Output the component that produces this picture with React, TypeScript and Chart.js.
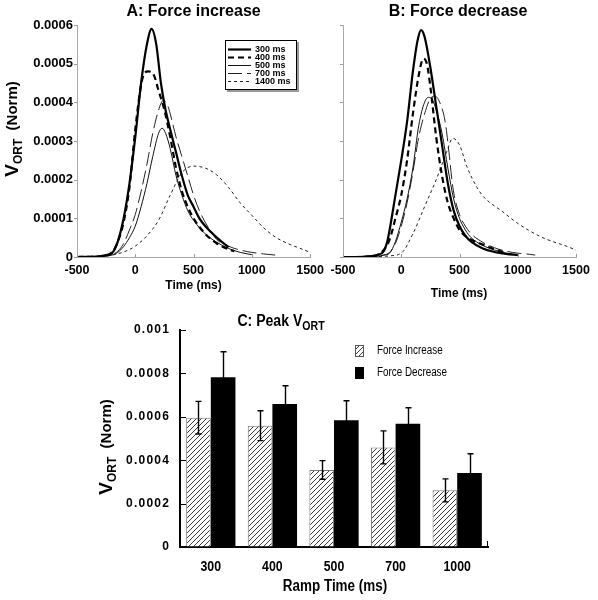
import React, { useEffect, useRef } from 'react';
import { Chart, registerables } from 'chart.js';

Chart.register(...registerables);

const SANS = "'Liberation Sans', Arial, Helvetica, sans-serif";

// ---------------- Panels A & B : normalised velocity profiles ----------------
const rampLabels = ['300 ms', '400 ms', '500 ms', '700 ms', '1400 ms'];
const timeMin = -500;
const timeMax = 1500;
const timeStep = 500;
const velMax = 0.0006;
const velStep = 0.0001;

// A: Force increase
const tA300 = [-500, -400, -300, -250, -200, -150, -100, -50, 0, 50, 100, 140, 180, 220, 260, 300, 350, 400, 450, 500, 550, 600, 700, 800];
const vA300 = [0, 0.0000005, 0.000002, 0.000005, 0.00001, 0.00004, 0.0001, 0.00019, 0.00031, 0.00045, 0.00055, 0.00059, 0.00055, 0.00045, 0.00038, 0.00033, 0.00027, 0.00021, 0.00016, 0.00013, 0.0001, 0.00008, 0.00005, 0.000025];
const tA400 = [-500, -400, -300, -200, -150, -100, -50, 0, 60, 110, 160, 200, 250, 300, 350, 400, 450, 500, 600, 700, 800, 850];
const vA400 = [0, 0.0000005, 0.000002, 0.000012, 0.00004, 0.00009, 0.00018, 0.00033, 0.00046, 0.00048, 0.00047, 0.00043, 0.00038, 0.00031, 0.00023, 0.00017, 0.00013, 0.0001, 0.00006, 0.000035, 0.00002, 0.000015];
const tA500 = [-500, -400, -300, -200, -150, -100, -50, 0, 50, 100, 150, 200, 230, 260, 300, 350, 400, 450, 500, 600, 700, 800, 900, 1000];
const vA500 = [0, 0, 0.000001, 0.000005, 0.000012, 0.000027, 0.00005, 0.00008, 0.00013, 0.00019, 0.00026, 0.00032, 0.000333, 0.00032, 0.00028, 0.00021, 0.00016, 0.00012, 0.000095, 0.00006, 0.000038, 0.000022, 0.000012, 0.000006];
const tA700 = [-500, -400, -300, -200, -150, -100, -50, 0, 50, 100, 150, 200, 240, 280, 300, 350, 400, 450, 500, 550, 600, 700, 800, 900, 1000, 1100, 1200];
const vA700 = [0, 0, 0.000002, 0.000006, 0.000015, 0.000035, 0.00007, 0.00011, 0.00017, 0.00024, 0.00032, 0.00038, 0.000405, 0.00039, 0.00037, 0.00031, 0.00026, 0.00021, 0.00016, 0.00012, 0.00009, 0.000045, 0.000028, 0.000018, 0.000012, 0.000008, 0.000005];
const tA1400 = [-500, -400, -300, -200, -100, 0, 100, 200, 300, 400, 500, 600, 700, 800, 900, 1000, 1100, 1200, 1300, 1400, 1500];
const vA1400 = [0, 0.000001, 0.000002, 0.000005, 0.000013, 0.000028, 0.000055, 0.000095, 0.00016, 0.000218, 0.000235, 0.00023, 0.000212, 0.00018, 0.00014, 0.000108, 0.000076, 0.000052, 0.000036, 0.000024, 0.000012];

// B: Force decrease
const tB300 = [-500, -400, -300, -200, -150, -120, -100, -50, 0, 50, 100, 140, 170, 200, 250, 300, 350, 400, 450, 500, 550, 600, 700, 800, 900, 1000];
const vB300 = [0, 0, 0.000001, 0.000006, 0.000015, 0.00004, 0.00007, 0.00016, 0.00025, 0.00035, 0.00048, 0.00056, 0.000587, 0.00057, 0.00049, 0.00039, 0.00029, 0.00019, 0.00012, 0.00008, 0.000055, 0.00004, 0.000022, 0.000013, 0.000008, 0.000005];
const tB400 = [-500, -400, -300, -200, -150, -100, -50, 0, 50, 100, 150, 190, 220, 250, 300, 350, 400, 450, 500, 600, 700, 800, 900];
const vB400 = [0, 0, 0.000001, 0.000006, 0.000018, 0.000045, 0.0001, 0.00016, 0.00025, 0.00037, 0.00047, 0.000513, 0.0005, 0.00044, 0.00031, 0.00021, 0.00014, 0.0001, 0.00007, 0.000045, 0.000032, 0.00002, 0.00001];
const tB500 = [-500, -400, -300, -200, -150, -100, -50, 0, 50, 100, 150, 200, 234, 270, 300, 350, 400, 450, 500, 550, 600, 700, 800, 900, 1000];
const vB500 = [0, 0, 0, 0.000002, 0.000005, 0.00001, 0.00004, 0.00009, 0.00015, 0.00023, 0.00034, 0.0004, 0.000413, 0.000405, 0.00038, 0.00032, 0.00023, 0.00015, 0.0001, 0.00007, 0.00005, 0.00003, 0.000018, 0.00001, 0.000005];
const tB700 = [-500, -400, -300, -200, -150, -100, -50, 0, 50, 100, 150, 200, 250, 290, 330, 377, 410, 443, 500, 550, 600, 700, 800, 900, 1000, 1100, 1150];
const vB700 = [0, 0, 0, 0.000002, 0.000005, 0.000012, 0.000035, 0.00008, 0.00014, 0.00022, 0.00031, 0.00037, 0.00041, 0.000416, 0.0004, 0.00035, 0.00027, 0.00018, 0.00011, 0.00008, 0.00006, 0.000038, 0.000024, 0.000015, 0.00001, 0.000007, 0.000005];
const tB1400 = [-500, -300, -200, -100, 0, 100, 200, 300, 350, 400, 440, 500, 563, 650, 706, 800, 849, 900, 1000, 1100, 1200, 1300, 1400, 1500];
const vB1400 = [0, 0, 0.000001, 0.000003, 0.00001, 0.00006, 0.00013, 0.0002, 0.00024, 0.00028, 0.000307, 0.00029, 0.000234, 0.00018, 0.000156, 0.000132, 0.000122, 0.00011, 0.000087, 0.000068, 0.000052, 0.00004, 0.00003, 0.000018];

const seriesA: [number[], number[]][] = [[tA300, vA300], [tA400, vA400], [tA500, vA500], [tA700, vA700], [tA1400, vA1400]];
const seriesB: [number[], number[]][] = [[tB300, vB300], [tB400, vB400], [tB500, vB500], [tB700, vB700], [tB1400, vB1400]];

// ---------------- Panel C : peak velocity ----------------
const rampTimes = ['300', '400', '500', '700', '1000'];
const peakIncrease = [0.000596, 0.000559, 0.000355, 0.000459, 0.000261];
const errIncrease = [0.000075, 0.000069, 0.000043, 0.000076, 0.000053];
const peakDecrease = [0.000782, 0.000659, 0.000584, 0.000568, 0.000341];
const errDecrease = [0.000118, 0.000084, 0.00009, 0.000074, 0.000089];
const peakMax = 0.001;
const peakStep = 0.0002;

// ---------------- styles ----------------
const lineWidths = [2.2, 2.2, 1, 1, 1];
const lineDashes = [[], [6, 4], [], [14, 5], [3, 3]];
const lineColors = ['#000', '#000', '#111', '#222', '#222'];

type Part = [string, string, number];
function drawRich(ctx: CanvasRenderingContext2D, cx: number, cy: number, angle: number, parts: Part[], sx = 1, align = 'center', spacing = '0px') {
  ctx.save();
  ctx.translate(cx, cy);
  if (angle) ctx.rotate(angle);
  if (sx !== 1) ctx.scale(sx, 1);
  (ctx as any).letterSpacing = spacing;
  ctx.fillStyle = '#000';
  ctx.textAlign = 'left';
  ctx.textBaseline = 'middle';
  let total = 0;
  const widths = parts.map(([t, f]) => {
    ctx.font = f;
    const w = ctx.measureText(t).width;
    total += w;
    return w;
  });
  let x = align === 'center' ? -total / 2 : align === 'right' ? -total : 0;
  parts.forEach(([t, f, dy], i) => {
    ctx.font = f;
    ctx.fillText(t, x, dy);
    x += widths[i];
  });
  (ctx as any).letterSpacing = '0px';
  ctx.restore();
}

function makeHatch(): CanvasPattern | string {
  const s = 5;
  const c = document.createElement('canvas');
  c.width = s;
  c.height = s;
  const g = c.getContext('2d');
  if (!g) return '#fff';
  g.fillStyle = '#fff';
  g.fillRect(0, 0, s, s);
  g.strokeStyle = '#222';
  g.lineWidth = 0.9;
  g.beginPath();
  g.moveTo(0, s);
  g.lineTo(s, 0);
  g.moveTo(-1, 1);
  g.lineTo(1, -1);
  g.moveTo(s - 1, s + 1);
  g.lineTo(s + 1, s - 1);
  g.stroke();
  return g.createPattern(c, 'repeat') || '#fff';
}

type Box = { W: number; H: number; L: number; T: number; R: number; B: number };

function lineConfig(series: [number[], number[]][], box: Box, showY: boolean, drawText: (chart: any) => void): any {
  const { W, H, L, T, R, B } = box;
  return {
    type: 'line',
    data: {
      datasets: series.map(([t, v], i) => ({
        label: rampLabels[i],
        data: t.map((x, k) => ({ x, y: v[k] })),
        borderColor: lineColors[i],
        borderWidth: lineWidths[i],
        borderDash: lineDashes[i],
        pointRadius: 0,
        cubicInterpolationMode: 'monotone',
        fill: false,
      })),
    },
    options: {
      responsive: false,
      animation: false,
      events: [],
      layout: { padding: { left: 0, top: T, right: W - R, bottom: 0 } },
      plugins: { legend: { display: false }, tooltip: { enabled: false }, title: { display: false } },
      scales: {
        x: {
          type: 'linear',
          min: timeMin,
          max: timeMax,
          ticks: {
            stepSize: timeStep,
            color: '#000',
            padding: 6,
            maxRotation: 0,
            font: { family: SANS, size: 12.5, weight: 'bold' },
            callback: (v: number) => String(v),
          },
          grid: { drawOnChartArea: false, drawTicks: false, color: '#aaa' },
          border: { color: '#aaa', width: 1 },
          afterFit: (s: any) => { s.height = H - B; },
        },
        y: {
          type: 'linear',
          min: 0,
          max: velMax,
          ticks: {
            stepSize: velStep,
            display: showY,
            color: '#000',
            padding: 4,
            font: { family: SANS, size: 13, weight: 'bold' },
            callback: (v: number) => (v === 0 ? '0' : v.toFixed(4)),
          },
          grid: { drawOnChartArea: false, drawTicks: false, color: '#aaa' },
          border: { color: '#aaa', width: 1 },
          afterFit: (s: any) => { s.width = L; },
        },
      },
    },
    plugins: [
      {
        id: 'panelExtras',
        afterDraw(chart: any) {
          const ctx = chart.ctx as CanvasRenderingContext2D;
          const xs = chart.scales.x;
          const ys = chart.scales.y;
          ctx.save();
          ctx.strokeStyle = '#999';
          ctx.lineWidth = 1;
          xs.ticks.forEach((t: any) => {
            const px = Math.round(xs.getPixelForValue(t.value)) + 0.5;
            ctx.beginPath();
            ctx.moveTo(px, ys.bottom);
            ctx.lineTo(px, ys.bottom - 3);
            ctx.stroke();
          });
          ys.ticks.forEach((t: any) => {
            const py = Math.round(ys.getPixelForValue(t.value)) + 0.5;
            ctx.beginPath();
            ctx.moveTo(xs.left, py);
            ctx.lineTo(xs.left - 3, py);
            ctx.stroke();
          });
          ctx.restore();
          drawText(chart);
        },
      },
    ],
  };
}

export default function App() {
  const refA = useRef<HTMLCanvasElement>(null);
  const refB = useRef<HTMLCanvasElement>(null);
  const refC = useRef<HTMLCanvasElement>(null);

  useEffect(() => {
    Chart.defaults.color = '#000';
    const boxA: Box = { W: 330, H: 300, L: 77, T: 25, R: 311, B: 257 };
    const boxB: Box = { W: 278, H: 300, L: 23, T: 25, R: 256, B: 257 };

    const cfgA = lineConfig(seriesA, boxA, true, (chart: any) => {
      const ctx = chart.ctx as CanvasRenderingContext2D;
      const ca = chart.chartArea;
      const cx = (ca.left + ca.right) / 2;
      drawRich(ctx, cx, 12, 0, [['A: Force increase', `bold 16px ${SANS}`, 0]]);
      drawRich(ctx, cx, 286, 0, [['Time (ms)', `bold 12px ${SANS}`, 0]]);
      drawRich(ctx, 13, 129, -Math.PI / 2, [
        ['V', `bold 19px ${SANS}`, 0],
        ['ORT', `bold 12px ${SANS}`, 6],
        ['  (Norm)', `bold 15px ${SANS}`, 0],
      ]);
      // legend
      ctx.save();
      ctx.fillStyle = '#999';
      ctx.fillRect(227, 42, 72, 50);
      ctx.fillStyle = '#fff';
      ctx.fillRect(225, 40, 72, 50);
      ctx.strokeStyle = '#000';
      ctx.lineWidth = 1;
      ctx.strokeRect(225.5, 40.5, 71, 49);
      chart.data.datasets.forEach((ds: any, i: number) => {
        const y = 49.5 + i * 8;
        ctx.strokeStyle = ds.borderColor;
        ctx.lineWidth = ds.borderWidth;
        ctx.setLineDash(ds.borderDash);
        ctx.beginPath();
        ctx.moveTo(228, y);
        ctx.lineTo(251, y);
        ctx.stroke();
        ctx.setLineDash([]);
        ctx.fillStyle = '#000';
        ctx.font = `bold 9px ${SANS}`;
        ctx.textAlign = 'left';
        ctx.textBaseline = 'middle';
        ctx.fillText(ds.label, 255, y);
      });
      ctx.restore();
    });

    const cfgB = lineConfig(seriesB, boxB, false, (chart: any) => {
      const ctx = chart.ctx as CanvasRenderingContext2D;
      drawRich(ctx, 138, 12, 0, [['B: Force decrease', `bold 16px ${SANS}`, 0]]);
      drawRich(ctx, 139, 294, 0, [['Time (ms)', `bold 12px ${SANS}`, 0]]);
    });

    const hatch = makeHatch();
    const WC = 598, HC = 300, LC = 180, TC = 30, RC = 488, BC = 247;
    const NX = 0.82; // horizontal squeeze to mimic the narrow face of panel C
    const cfgC: any = {
      type: 'bar',
      data: {
        labels: rampTimes,
        datasets: [
          { label: 'Force Increase', data: peakIncrease, backgroundColor: hatch, borderColor: '#777', borderWidth: 1 },
          { label: 'Force Decrease', data: peakDecrease, backgroundColor: '#000', borderColor: '#000', borderWidth: 0 },
        ],
      },
      options: {
        responsive: false,
        animation: false,
        events: [],
        layout: { padding: { left: 0, top: TC, right: WC - RC, bottom: 0 } },
        datasets: { bar: { categoryPercentage: 0.8, barPercentage: 1.0 } },
        plugins: { legend: { display: false }, tooltip: { enabled: false }, title: { display: false } },
        scales: {
          x: {
            ticks: { display: false },
            grid: { display: true, drawOnChartArea: false, drawTicks: false, color: 'rgba(0,0,0,0)' },
            border: { color: '#000', width: 2 },
            afterFit: (s: any) => { s.height = HC - BC; },
          },
          y: {
            min: 0,
            max: peakMax,
            ticks: { stepSize: peakStep, display: false },
            grid: { display: true, drawOnChartArea: false, drawTicks: false, color: 'rgba(0,0,0,0)' },
            border: { color: '#000', width: 2 },
            afterFit: (s: any) => { s.width = LC; },
          },
        },
      },
      plugins: [
        {
          id: 'errorBarsAndText',
          afterDatasetsDraw(chart: any) {
            const ctx = chart.ctx as CanvasRenderingContext2D;
            const ys = chart.scales.y;
            const errs = [errIncrease, errDecrease];
            const vals = [peakIncrease, peakDecrease];
            ctx.save();
            ctx.strokeStyle = '#000';
            ctx.lineWidth = 1.4;
            [0, 1].forEach((di) => {
              const meta = chart.getDatasetMeta(di);
              meta.data.forEach((bar: any, j: number) => {
                const x = Math.round(bar.x) + 0.5;
                const top = ys.getPixelForValue(vals[di][j] + errs[di][j]);
                const bot = ys.getPixelForValue(vals[di][j] - errs[di][j]);
                ctx.beginPath();
                ctx.moveTo(x, bot);
                ctx.lineTo(x, top);
                ctx.moveTo(x - 3, top);
                ctx.lineTo(x + 3, top);
                ctx.moveTo(x - 3, bot);
                ctx.lineTo(x + 3, bot);
                ctx.stroke();
              });
            });
            ctx.restore();
          },
          afterDraw(chart: any) {
            const ctx = chart.ctx as CanvasRenderingContext2D;
            const ys = chart.scales.y;
            const xs = chart.scales.x;
            const ca = chart.chartArea;
            ctx.save();
            ctx.strokeStyle = '#000';
            ctx.lineWidth = 1;
            ys.ticks.forEach((t: any) => {
              const py = Math.round(ys.getPixelForValue(t.value)) + 0.5;
              ctx.beginPath();
              ctx.moveTo(ca.left, py);
              ctx.lineTo(ca.left + 6, py);
              ctx.stroke();
            });
            ctx.beginPath();
            ctx.moveTo(ca.right - 0.5, ca.bottom);
            ctx.lineTo(ca.right - 0.5, ca.bottom - 6);
            ctx.stroke();
            ctx.restore();
            // y tick labels (spaced digits)
            ys.ticks.forEach((t: any) => {
              const v = t.value;
              const txt = v === 0 ? '0' : String(+v.toFixed(4));
              drawRich(ctx, ca.left - 10, ys.getPixelForValue(v), 0, [[txt, `bold 12px ${SANS}`, 0]], 1, 'right', '1.2px');
            });
            // x tick labels (narrow)
            chart.data.labels.forEach((lab: string, i: number) => {
              drawRich(ctx, xs.getPixelForTick(i), ca.bottom + 20, 0, [[lab, `bold 14px ${SANS}`, 0]], 0.88);
            });
            // legend
            const ds = chart.data.datasets;
            const entries = [51, 73];
            ctx.save();
            entries.forEach((y, i) => {
              ctx.fillStyle = ds[i].backgroundColor;
              ctx.fillRect(355, y - 6, 9, 12);
              if (i === 0) {
                ctx.strokeStyle = '#555';
                ctx.lineWidth = 1;
                ctx.strokeRect(355.5, y - 5.5, 8, 11);
              }
            });
            ctx.restore();
            entries.forEach((y, i) => {
              drawRich(ctx, 377, y, 0, [[ds[i].label, `12px ${SANS}`, 0]], NX, 'left');
            });
            drawRich(ctx, 281, 22, 0, [
              ['C: Peak V', `bold 16px ${SANS}`, 0],
              ['ORT', `bold 12px ${SANS}`, 5],
            ], 0.88);
            drawRich(ctx, 107, 147, -Math.PI / 2, [
              ['V', `bold 19px ${SANS}`, 0],
              ['ORT', `bold 12px ${SANS}`, 6],
              ['  (Norm)', `bold 15px ${SANS}`, 0],
            ]);
            drawRich(ctx, 335, 287, 0, [['Ramp Time (ms)', `bold 16px ${SANS}`, 0]], 0.84);
          },
        },
      ],
    };

    const a = new Chart(refA.current as HTMLCanvasElement, cfgA);
    const b = new Chart(refB.current as HTMLCanvasElement, cfgB);
    const c = new Chart(refC.current as HTMLCanvasElement, cfgC);
    return () => {
      a.destroy();
      b.destroy();
      c.destroy();
    };
  }, []);

  return (
    <div style={{ position: 'absolute', left: 0, top: 0, width: 598, height: 600, background: '#fff' }}>
      <canvas ref={refA} width={330} height={300} style={{ position: 'absolute', left: 0, top: 0, width: 330, height: 300 }} />
      <canvas ref={refB} width={278} height={300} style={{ position: 'absolute', left: 320, top: 0, width: 278, height: 300 }} />
      <canvas ref={refC} width={598} height={300} style={{ position: 'absolute', left: 0, top: 300, width: 598, height: 300 }} />
    </div>
  );
}
